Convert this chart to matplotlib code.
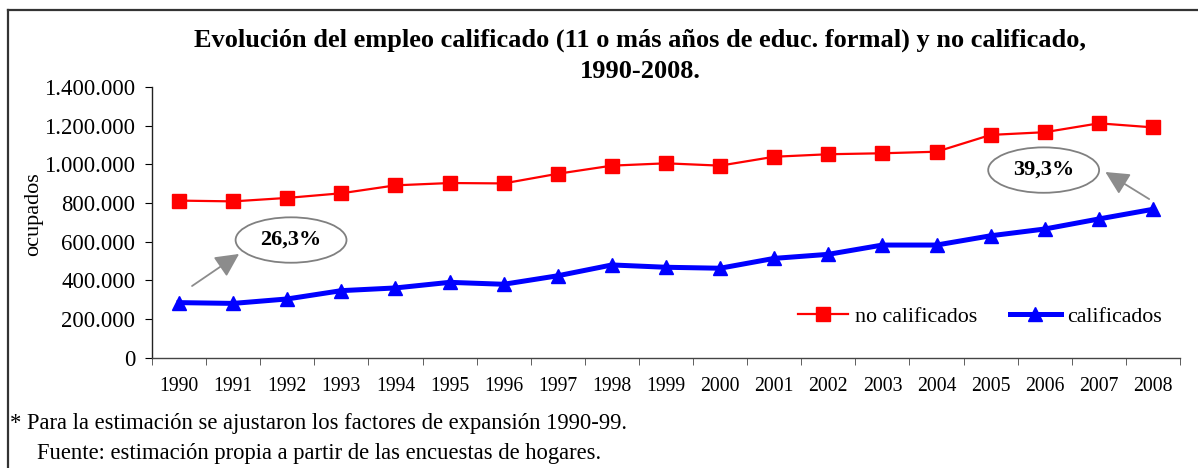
import matplotlib
matplotlib.use("Agg")
import matplotlib.pyplot as plt
from matplotlib.patches import Ellipse
from matplotlib.lines import Line2D
import numpy as np

plt.rcParams['font.family'] = ['Liberation Serif', 'DejaVu Serif']

# datos (ocupados)
years = [str(y) for y in range(1990, 2009)]
no_calificados = [812000, 808000, 826000, 850000, 891000, 903000, 901000, 951000,
                  993000, 1005000, 993000, 1039000, 1052000, 1057000, 1065000,
                  1152000, 1166000, 1212000, 1191000]
calificados = [284000, 280000, 303000, 346000, 360000, 389000, 379000, 423000,
               479000, 467000, 462000, 513000, 534000, 582000, 582000,
               630000, 665000, 717000, 767000]
y_ticks = [0, 200000, 400000, 600000, 800000, 1000000, 1200000, 1400000]
pct_1990 = "26,3%"
pct_2008 = "39,3%"


def fmt_miles(v):
    return f"{int(v):,}".replace(",", ".")


W, H = 1198, 468
fig = plt.figure(figsize=(W / 100, H / 100), dpi=100)
ax = fig.add_axes([152 / W, 1 - 357.5 / H, (1180 - 152) / W, (357.5 - 87) / H])

x = np.arange(len(years))
ax.plot(x, no_calificados, color='#ff0000', lw=1.6, marker='s', ms=10,
        label='no calificados', zorder=3)
ax.plot(x, calificados, color='#0000ff', lw=3.6, marker='^', ms=10,
        label='calificados', zorder=3)

ax.set_xlim(-0.5, len(years) - 0.5)
ax.set_ylim(0, 1400000)
ax.set_yticks(y_ticks)
ax.set_yticklabels([fmt_miles(v) for v in y_ticks], fontsize=16.4)
ax.set_xticks(x)
ax.set_xticklabels(years, fontsize=14.2)
ax.set_xticks(np.arange(-0.5, len(years)), minor=True)
ax.tick_params(axis='x', which='major', length=0, pad=14)
ax.tick_params(axis='x', which='minor', length=5, direction='out', color='#444444')
ax.tick_params(axis='y', length=5, direction='out', pad=7)

for s in ['top', 'right']:
    ax.spines[s].set_visible(False)
ax.spines['left'].set_color('#222222')
ax.spines['bottom'].set_color('#444444')
ax.spines['left'].set_linewidth(1.0)
ax.spines['bottom'].set_linewidth(1.0)

ax.set_ylabel('ocupados', fontsize=16)
ax.yaxis.set_label_coords(-0.106, 0.53)

# globos con porcentajes
for cx, cy, txt in [(2.07, 608000, pct_1990), (15.98, 970000, pct_2008)]:
    ax.add_patch(Ellipse((cx, cy), 2.05, 235000, facecolor='white',
                         edgecolor='#808080', lw=1.3, zorder=4))
    ax.text(cx, cy, txt, ha='center', va='center', fontsize=16,
            fontweight='bold', zorder=5)

arrow = dict(arrowstyle='-|>,head_length=1.2,head_width=0.6', color='#8c8c8c',
             lw=1.3, mutation_scale=12, shrinkA=0, shrinkB=0)
ax.annotate('', xy=(1.11, 536000), xytext=(0.24, 370000), arrowprops=arrow, zorder=4)
ax.annotate('', xy=(17.12, 960000), xytext=(17.93, 820000), arrowprops=arrow, zorder=4)

fig.legend(loc='center left', bbox_to_anchor=(798 / W, 1 - 316.5 / H), ncol=2,
           frameon=False, fontsize=15.8, handlelength=2.3, handletextpad=0.3,
           columnspacing=1.5, borderpad=0, borderaxespad=0, numpoints=1)

fig.text(640 / W, 1 - 40 / H,
         'Evolución del empleo calificado (11 o más años de educ. formal) y no calificado,',
         ha='center', va='center', fontsize=19, fontweight='bold')
fig.text(640 / W, 1 - 72 / H, '1990-2008.', ha='center', va='center',
         fontsize=19, fontweight='bold')

fig.text(10 / W, 1 - 423 / H,
         '* Para la estimación se ajustaron los factores de expansión 1990-99.',
         ha='left', va='center', fontsize=16.3)
fig.text(37 / W, 1 - 453 / H,
         'Fuente: estimación propia a partir de las encuestas de hogares.',
         ha='left', va='center', fontsize=16.3)

# marco
fig.add_artist(Line2D([8 / W, 1], [1 - 10 / H, 1 - 10 / H], color='#333333', lw=1.6))
fig.add_artist(Line2D([8 / W, 8 / W], [0, 1 - 10 / H], color='#333333', lw=1.6))

fig.savefig('out.png', dpi=100)
